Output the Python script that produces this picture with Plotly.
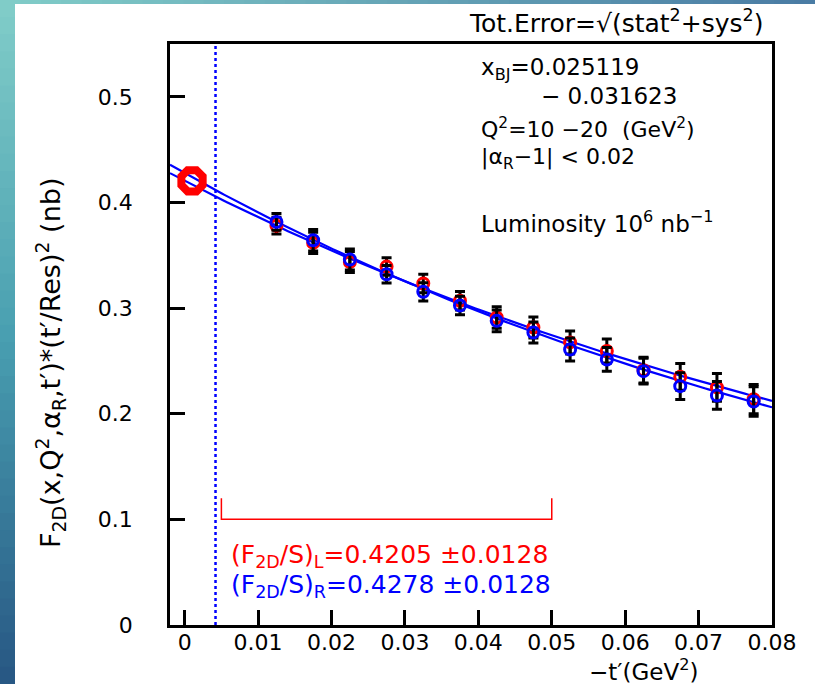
import numpy as np
import plotly.graph_objects as go

# ---------------- data ----------------
t_vals = [0.0125, 0.0175, 0.0225, 0.0275, 0.0325, 0.0375, 0.0425,
          0.0475, 0.0525, 0.0575, 0.0625, 0.0675, 0.0725, 0.0775]
f_L = [0.3780, 0.3617, 0.3437, 0.3393, 0.3233, 0.3069, 0.2911,
       0.2816, 0.2675, 0.2594, 0.2412, 0.2349, 0.2249, 0.2138]
f_R = [0.3816, 0.3642, 0.3460, 0.3321, 0.3154, 0.3025, 0.2879,
       0.2769, 0.2608, 0.2514, 0.2403, 0.2261, 0.2173, 0.2116]
tot_err = [0.0079, 0.0101, 0.0099, 0.0083, 0.0087, 0.0088, 0.0102,
           0.0100, 0.0109, 0.0113, 0.0122, 0.0127, 0.0131, 0.0139]

fit_intercept = {"L": 0.4205, "R": 0.4278}
fit_error = 0.0128
fit_slope = {"L": 8.55, "R": 9.13}
fit_range = [0.005, 0.05]
t_extrap = 0.001
t_cut = 0.0042

x_ticks = [0, 0.01, 0.02, 0.03, 0.04, 0.05, 0.06, 0.07, 0.08]
x_ticktext = ["0", "0.01", "0.02", "0.03", "0.04", "0.05", "0.06", "0.07", "0.08"]
y_ticks = [0, 0.1, 0.2, 0.3, 0.4, 0.5]
y_ticktext = ["0", "0.1", "0.2", "0.3", "0.4", "0.5"]
x_range = [-0.002, 0.08]
y_range = [0, 0.55]

# ---------------- geometry helpers ----------------
W, H = 815, 684
ML, MR, MT, MB = 170, 43, 44, 59
PW, PH = W - ML - MR, H - MT - MB
def px(x):
    return (x - ML) / PW
def py(y):
    return (H - MB - y) / PH

FONT = "DejaVu Sans"
RED = "#ff0000"
BLUE = "#0000ff"

fig = go.Figure()

# fit curves
t_grid = np.linspace(x_range[0], x_range[1], 200)
for key in ["L", "R"]:
    fig.add_trace(go.Scatter(
        x=t_grid, y=fit_intercept[key] * np.exp(-fit_slope[key] * t_grid),
        mode="lines", line=dict(color=BLUE, width=2.2), hoverinfo="skip",
        showlegend=False))

# dotted cut line
fig.add_trace(go.Scatter(x=[t_cut, t_cut], y=y_range, mode="lines",
                         line=dict(color=BLUE, width=2.5, dash="dot"),
                         showlegend=False))

# fit range bracket
fig.add_trace(go.Scatter(
    x=[fit_range[0], fit_range[0], fit_range[1], fit_range[1]],
    y=[0.12, 0.1, 0.1, 0.12], mode="lines",
    line=dict(color=RED, width=1.5), showlegend=False))

# data points
fig.add_trace(go.Scatter(
    x=t_vals, y=f_L, mode="markers",
    marker=dict(symbol="circle-open", size=11, color=RED, line=dict(width=3, color=RED)),
    error_y=dict(type="data", array=tot_err, color="black", thickness=3, width=5),
    showlegend=False))
fig.add_trace(go.Scatter(
    x=t_vals, y=f_R, mode="markers",
    marker=dict(symbol="circle-open", size=11, color=BLUE, line=dict(width=3, color=BLUE)),
    error_y=dict(type="data", array=tot_err, color="black", thickness=3, width=5),
    showlegend=False))

# extrapolated value
fig.add_trace(go.Scatter(
    x=[t_extrap], y=[fit_intercept["L"]], mode="markers",
    marker=dict(symbol="octagon-open", size=23, color=RED, line=dict(width=8, color=RED)),
    showlegend=False))

# ---------------- background strips (gradient) ----------------
shapes = []
def lerp(c1, c2, f):
    return "rgb(%d,%d,%d)" % tuple(int(round(a + (b - a) * f)) for a, b in zip(c1, c2))
N = 40
top_c, mid_c, bot_c = (128, 204, 200), (72, 158, 176), (40, 88, 132)
for i in range(N):
    f = i / (N - 1)
    c = lerp(top_c, mid_c, f * 2) if f < 0.5 else lerp(mid_c, bot_c, (f - 0.5) * 2)
    y0 = i * H / N
    y1 = (i + 1) * H / N + 1
    shapes.append(dict(type="rect", xref="paper", yref="paper",
                       x0=px(0), x1=px(15), y0=py(y1), y1=py(y0),
                       fillcolor=c, line=dict(width=0), layer="below"))
for i in range(N):
    f = i / (N - 1)
    c = lerp((128, 204, 200), (74, 124, 164), f)
    x0 = i * W / N
    x1 = (i + 1) * W / N + 1
    shapes.append(dict(type="rect", xref="paper", yref="paper",
                       x0=px(x0), x1=px(x1), y0=py(4), y1=py(0),
                       fillcolor=c, line=dict(width=0), layer="below"))

# ---------------- annotations ----------------
def txt(text, x, y, size=24, color="black", xanchor="left", angle=0):
    return dict(text=text, x=px(x), y=py(y), xref="paper", yref="paper",
                xanchor=xanchor, yanchor="middle", showarrow=False,
                textangle=angle, borderpad=0,
                font=dict(family=FONT, size=size, color=color))

annotations = [
    txt("Tot.Error=√(stat<sup>2</sup>+sys<sup>2</sup>)", 468, 21, size=25),
    txt("x<sub>BJ</sub>=0.025119", 480, 69, size=23),
    txt("− 0.031623", 540, 96, size=23),
    txt("Q<sup>2</sup>=10 −20  (GeV<sup>2</sup>)", 480, 128, size=22),
    txt("|α<sub>R</sub>−1| &lt; 0.02", 480, 158, size=22),
    txt("Luminosity 10<sup>6</sup> nb<sup>−1</sup>", 480, 222, size=23),
    txt("(F<sub>2D</sub>/S)<sub>L</sub>=0.4205 ±0.0128", 230, 556, size=25, color=RED),
    txt("(F<sub>2D</sub>/S)<sub>R</sub>=0.4278 ±0.0128", 230, 586, size=25, color=BLUE),
    txt("−t′(GeV<sup>2</sup>)", 588, 670, size=23),
    dict(text="F<sub>2D</sub>(x,Q<sup>2</sup>,α<sub>R</sub>,t′)*(t′/Res)<sup>2</sup> (nb)",
         x=px(50), y=py(363), xref="paper", yref="paper", xanchor="center",
         yanchor="middle", showarrow=False, textangle=-90,
         font=dict(family=FONT, size=27, color="black")),
]

axis_common = dict(showgrid=False, zeroline=False, ticks="inside", ticklen=15,
                   tickwidth=2.5, tickcolor="black", linecolor="black",
                   linewidth=2.5, mirror=True, showline=True, automargin=False,
                   tickfont=dict(family=FONT, size=22, color="black"))

fig.update_layout(
    width=W, height=H,
    margin=dict(l=ML, r=MR, t=MT, b=MB, pad=0, autoexpand=False),
    paper_bgcolor="white", plot_bgcolor="white",
    xaxis=dict(range=x_range, tickvals=x_ticks, ticktext=x_ticktext,
               ticklabelstandoff=-4, **axis_common),
    yaxis=dict(range=y_range, tickvals=y_ticks, ticktext=y_ticktext,
               ticklabelstandoff=30, **axis_common),
    shapes=shapes, annotations=annotations, showlegend=False,
)

fig.write_html("out.html", config={"displayModeBar": False},
               post_script="document.body.style.margin='0';document.body.style.padding='0';")
